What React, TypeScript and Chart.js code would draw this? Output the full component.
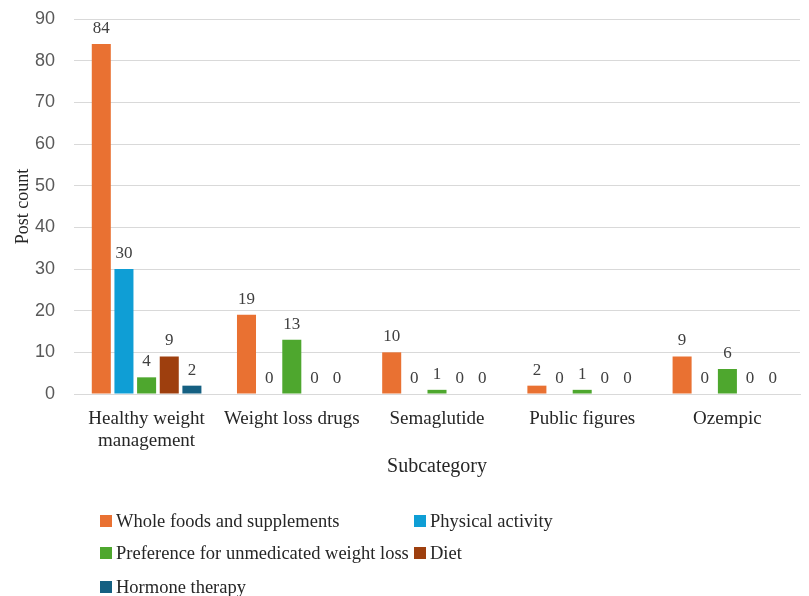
import React, { useEffect, useRef } from "react";
import { Chart, registerables } from "chart.js";

Chart.register(...registerables);

const categories: (string | string[])[] = [
  ["Healthy weight", "management"],
  "Weight loss drugs",
  "Semaglutide",
  "Public figures",
  "Ozempic",
];

const seriesNames = [
  "Whole foods and supplements",
  "Physical activity",
  "Preference for unmedicated weight loss",
  "Diet",
  "Hormone therapy",
];

const wholeFoods = [84, 19, 10, 2, 9];
const physicalActivity = [30, 0, 0, 0, 0];
const unmedicatedPreference = [4, 13, 1, 1, 6];
const diet = [9, 0, 0, 0, 0];
const hormoneTherapy = [2, 0, 0, 0, 0];

const seriesColors = ["#E97132", "#0F9ED5", "#4EA72E", "#9E3F0E", "#156082"];

const yTicks = { min: 0, max: 90, step: 10 };

const SERIF = "'Liberation Serif', 'Times New Roman', serif";
const SANS = "'Liberation Sans', Arial, sans-serif";

// Value labels drawn above each bar (zero bars included)
const valueLabels = {
  id: "valueLabels",
  afterDatasetsDraw(chart: any) {
    const ctx = chart.ctx;
    ctx.save();
    ctx.font = `17px ${SERIF}`;
    ctx.fillStyle = "#404040";
    ctx.textAlign = "center";
    ctx.textBaseline = "bottom";
    chart.data.datasets.forEach((ds: any, i: number) => {
      const meta = chart.getDatasetMeta(i);
      meta.data.forEach((bar: any, j: number) => {
        ctx.fillText(String(ds.data[j]), bar.x, bar.y - 7);
      });
    });
    ctx.restore();
  },
};

// Two-column legend below the axis title
const gridLegend = {
  id: "gridLegend",
  afterDraw(chart: any) {
    const ctx = chart.ctx;
    const colX = [100, 414];
    const rowY = [521, 553, 587];
    ctx.save();
    ctx.font = `18.5px ${SERIF}`;
    ctx.textBaseline = "middle";
    ctx.textAlign = "left";
    chart.data.datasets.forEach((ds: any, i: number) => {
      const x = colX[i % 2];
      const y = rowY[Math.floor(i / 2)];
      ctx.fillStyle = ds.backgroundColor;
      ctx.fillRect(x, y - 6, 12, 12);
      ctx.fillStyle = "#262626";
      ctx.fillText(ds.label, x + 16, y + 1);
    });
    ctx.restore();
  },
};

export default function App() {
  const canvasRef = useRef<HTMLCanvasElement | null>(null);

  useEffect(() => {
    if (!canvasRef.current) return;
    const seriesData = [wholeFoods, physicalActivity, unmedicatedPreference, diet, hormoneTherapy];
    const chart = new Chart(canvasRef.current, {
      type: "bar",
      data: {
        labels: categories,
        datasets: seriesData.map((d, i) => ({
          label: seriesNames[i],
          data: d,
          backgroundColor: seriesColors[i],
          borderWidth: 0,
          categoryPercentage: 0.78,
          barPercentage: 0.84,
        })),
      },
      options: {
        animation: false,
        responsive: true,
        maintainAspectRatio: false,
        layout: { padding: { top: 19, right: 9, bottom: 116, left: 0 } },
        plugins: {
          legend: { display: false },
          tooltip: { enabled: false },
        },
        scales: {
          x: {
            grid: { display: false, drawTicks: false },
            border: { display: true, color: "#d9d9d9", width: 1 },
            ticks: {
              font: { family: SERIF, size: 19, lineHeight: 1.15 },
              color: "#262626",
              padding: 14,
              maxRotation: 0,
              autoSkip: false,
            },
            title: {
              display: true,
              text: "Subcategory",
              font: { family: SERIF, size: 20 },
              color: "#262626",
              padding: { top: 0, bottom: 1 },
            },
            afterFit(scale: any) {
              scale.height = 86;
            },
          },
          y: {
            min: yTicks.min,
            max: yTicks.max,
            grid: { color: "#d9d9d9", drawTicks: false },
            border: { display: false },
            ticks: {
              stepSize: yTicks.step,
              font: { family: SANS, size: 18 },
              color: "#595959",
              padding: 19,
            },
            title: {
              display: true,
              text: "Post count",
              font: { family: SERIF, size: 18 },
              color: "#262626",
              padding: { top: 12, bottom: 0 },
            },
            afterFit(scale: any) {
              scale.width = 74;
              scale.paddingTop = 0;
              scale.paddingBottom = 0;
            },
          },
        },
      },
      plugins: [valueLabels, gridLegend],
    });
    return () => chart.destroy();
  }, []);

  return (
    <div style={{ position: "fixed", left: 0, top: 0, width: 809, height: 596, background: "#fff" }}>
      <canvas ref={canvasRef} />
    </div>
  );
}
